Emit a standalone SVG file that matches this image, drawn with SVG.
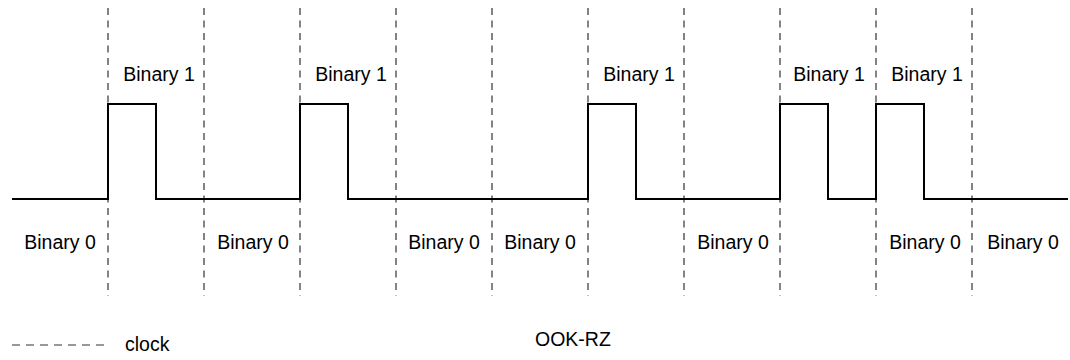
<svg xmlns="http://www.w3.org/2000/svg" width="1070" height="360" viewBox="0 0 1070 360">
  <style>
    .clk { stroke: #333; stroke-width: 1.2; stroke-dasharray: 7 5.5; fill: none; }
    .key { stroke: #333; stroke-width: 1.2; stroke-dasharray: 8 6; fill: none; }
    .sig { stroke: #000; stroke-width: 2; fill: none; stroke-linejoin: miter; }
    .lbl { font-family: "Liberation Sans", Arial, sans-serif; font-size: 19.5px; fill: #000; }
    .mid { text-anchor: middle; }
  </style>
  <rect width="1070" height="360" fill="#fff"/>

  <!-- clock boundaries -->
  <g id="clock-lines">
    <line class="clk" x1="108" y1="8" x2="108" y2="296"/>
    <line class="clk" x1="204" y1="8" x2="204" y2="296"/>
    <line class="clk" x1="300" y1="8" x2="300" y2="296"/>
    <line class="clk" x1="396" y1="8" x2="396" y2="296"/>
    <line class="clk" x1="492" y1="8" x2="492" y2="296"/>
    <line class="clk" x1="588" y1="8" x2="588" y2="296"/>
    <line class="clk" x1="684" y1="8" x2="684" y2="296"/>
    <line class="clk" x1="780" y1="8" x2="780" y2="296"/>
    <line class="clk" x1="876" y1="8" x2="876" y2="296"/>
    <line class="clk" x1="972" y1="8" x2="972" y2="296"/>
  </g>

  <!-- OOK-RZ waveform -->
  <g id="signal">
    <path class="sig" d="M12 199 H108 V104 H156 V199 H300 V104 H348 V199 H588 V104 H636 V199 H780 V104 H828 V199 H876 V104 H924 V199 H1068"/>
  </g>

  <!-- bit labels -->
  <g id="bits-high">
    <text class="lbl mid" x="159" y="81">Binary 1</text>
    <text class="lbl mid" x="351" y="81">Binary 1</text>
    <text class="lbl mid" x="639" y="81">Binary 1</text>
    <text class="lbl mid" x="829" y="81">Binary 1</text>
    <text class="lbl mid" x="927" y="81">Binary 1</text>
  </g>
  <g id="bits-low">
    <text class="lbl mid" x="60" y="249">Binary 0</text>
    <text class="lbl mid" x="253" y="249">Binary 0</text>
    <text class="lbl mid" x="444" y="249">Binary 0</text>
    <text class="lbl mid" x="540" y="249">Binary 0</text>
    <text class="lbl mid" x="733" y="249">Binary 0</text>
    <text class="lbl mid" x="925" y="249">Binary 0</text>
    <text class="lbl mid" x="1023" y="249">Binary 0</text>
  </g>

  <!-- legend and caption -->
  <g id="legend">
    <line class="key" x1="12" y1="345" x2="108" y2="345"/>
    <text class="lbl" x="125" y="351">clock</text>
  </g>
  <g id="caption">
    <text class="lbl" x="535" y="346">OOK-RZ</text>
  </g>
</svg>
